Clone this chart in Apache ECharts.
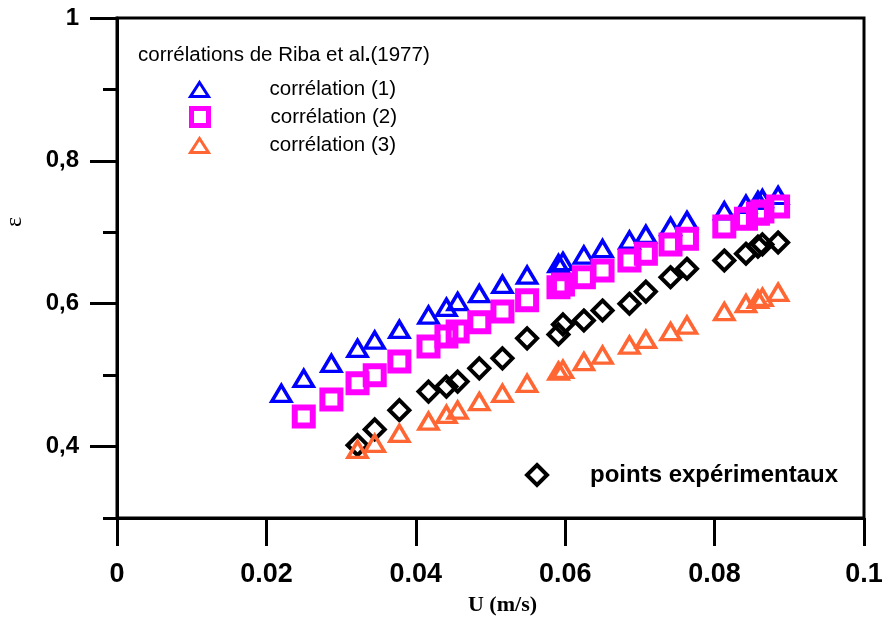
<!DOCTYPE html>
<html>
<head>
<meta charset="utf-8">
<script src="https://cdn.jsdelivr.net/npm/echarts@6/dist/echarts.min.js"></script>
<style>
  html, body { margin: 0; padding: 0; background: #fff; }
  #chart { width: 883px; height: 622px; }
</style>
</head>
<body>
<div id="chart"></div>
<script>
// U (m/s) shared by the measurements and the correlations
const uExp = [0.0322, 0.0345, 0.0378, 0.0417, 0.0441, 0.0456, 0.0485, 0.0516, 0.0549, 0.0591, 0.0597,
  0.0625, 0.0650, 0.0686, 0.0708, 0.0741, 0.0763, 0.0813, 0.0842, 0.0858, 0.0864, 0.0885];
// extra low velocities used only by correlations (1) and (2)
const uLow1 = [0.0220, 0.0250, 0.0287];
const uLow2 = [0.0250, 0.0287];

const epsExp = [0.402, 0.424, 0.451, 0.477, 0.484, 0.491, 0.5095, 0.5235, 0.5515, 0.557, 0.571,
  0.5765, 0.5905, 0.600, 0.617, 0.637, 0.649, 0.6605, 0.670, 0.680, 0.683, 0.6857];
const eps1 = [0.4745, 0.4955, 0.5165,
  0.5375, 0.549, 0.564, 0.584, 0.595, 0.603, 0.614, 0.627, 0.640, 0.656, 0.659,
  0.668, 0.677, 0.689, 0.697, 0.708, 0.7165, 0.730, 0.739, 0.7445, 0.747, 0.7515];
const eps2 = [0.442, 0.466,
  0.4885, 0.500, 0.519, 0.540, 0.554, 0.561, 0.574, 0.589, 0.605, 0.623, 0.627,
  0.637, 0.6465, 0.6605, 0.670, 0.683, 0.691, 0.708, 0.719, 0.726, 0.729, 0.736];
const eps3 = [0.396, 0.4045, 0.4185, 0.4355, 0.445, 0.451, 0.463, 0.4745, 0.4885, 0.5055, 0.508,
  0.519, 0.528, 0.542, 0.550, 0.561, 0.570, 0.589, 0.600, 0.606, 0.609, 0.616];

const xTicks = [0, 0.02, 0.04, 0.06, 0.08, 0.1];
const yMajor = [0.4, 0.6, 0.8, 1];
const yMinor = [0.3, 0.5, 0.7, 0.9];

const names = ['corrélation (1)', 'corrélation (2)', 'corrélation (3)', 'points expérimentaux'];
const colors = ['#0000ff', '#ff00ff', '#ff6633', '#000000'];

const zip = (xs, ys) => xs.map((x, i) => [x, ys[i]]);

const sansFont = '"Liberation Sans", Arial, sans-serif';
const serifFont = '"Liberation Serif", "Times New Roman", serif';

const hollow = (c, w) => ({ color: 'rgba(0,0,0,0)', borderColor: c, borderWidth: w, opacity: 1 });

const legendOne = (name, icon, style, left, top, w, h, pad, textStyle) => ({
  show: true,
  left: left,
  top: top,
  padding: 0,
  itemWidth: w,
  itemHeight: h,
  selectedMode: false,
  data: [{ name: name, icon: icon, itemStyle: style }],
  textStyle: Object.assign({ color: '#000', padding: [0, 0, 0, pad] }, textStyle)
});

const legendText = { fontFamily: sansFont, fontSize: 20.5 };

const option = {
  animation: false,
  backgroundColor: '#fff',
  title: {
    text: 'corrélations de Riba et al{b|.}(1977)',
    left: 138,
    top: 45,
    padding: 0,
    textStyle: {
      fontFamily: sansFont,
      fontSize: 20.5,
      fontWeight: 'normal',
      color: '#000',
      rich: { b: { fontFamily: sansFont, fontSize: 20.5, fontWeight: 'bold', color: '#000' } }
    }
  },
  legend: [
    legendOne(names[0], 'triangle', hollow(colors[0], 3), 189, 79, 18, 14, 56, legendText),
    legendOne(names[1], 'rect', hollow(colors[1], 5), 189, 106, 17, 17, 57, legendText),
    legendOne(names[2], 'triangle', hollow(colors[2], 3), 189, 135, 18, 14, 56, legendText),
    legendOne(names[3], 'diamond', hollow(colors[3], 4), 525, 463, 20, 20, 38,
      { fontFamily: sansFont, fontSize: 24, fontWeight: 'bold' })
  ],
  grid: {
    left: 117,
    right: 19,
    top: 18,
    bottom: 104,
    outerBoundsMode: 'none',
    containLabel: false,
    show: true,
    borderColor: '#000',
    borderWidth: 3,
    backgroundColor: 'rgba(0,0,0,0)'
  },
  xAxis: {
    type: 'value',
    min: 0,
    max: 0.1,
    interval: 0.02,
    name: 'U (m/s)',
    nameLocation: 'middle',
    nameGap: 76,
    nameTextStyle: {
      fontFamily: serifFont, fontSize: 22, fontWeight: 'bold', color: '#000',
      padding: [0, 0, 0, 24]
    },
    axisLine: { lineStyle: { color: '#000', width: 3 } },
    axisTick: { customValues: xTicks, length: 28, lineStyle: { color: '#000', width: 3 } },
    axisLabel: {
      customValues: xTicks,
      margin: 43,
      color: '#000',
      fontFamily: sansFont,
      fontSize: 27,
      fontWeight: 'bold',
      formatter: v => String(+v.toFixed(2))
    },
    splitLine: { show: false }
  },
  yAxis: [
    {
      type: 'value',
      min: 0.3,
      max: 1,
      interval: 0.1,
      name: 'ε',
      nameLocation: 'middle',
      nameGap: 90,
      nameTextStyle: {
        fontFamily: serifFont, fontSize: 24, color: '#000',
        padding: [0, 0, 0, 92]
      },
      axisLine: { lineStyle: { color: '#000', width: 3 } },
      axisTick: { customValues: yMajor, length: 27, lineStyle: { color: '#000', width: 3 } },
      axisLabel: {
        customValues: yMajor,
        margin: 38,
        color: '#000',
        fontFamily: sansFont,
        fontSize: 24,
        fontWeight: 'bold',
        formatter: v => (v === 1 ? '1' : v.toFixed(1).replace('.', ','))
      },
      splitLine: { show: false }
    },
    {
      type: 'value',
      min: 0.3,
      max: 1,
      interval: 0.1,
      position: 'left',
      axisLine: { show: false },
      axisTick: { customValues: yMinor, length: 14, lineStyle: { color: '#000', width: 3 } },
      axisLabel: { show: false },
      splitLine: { show: false }
    }
  ],
  series: [
    {
      name: names[0],
      type: 'scatter',
      symbol: 'triangle',
      symbolSize: [19, 16],
      itemStyle: hollow(colors[0], 3.5),
      data: zip(uLow1.concat(uExp), eps1)
    },
    {
      name: names[1],
      type: 'scatter',
      symbol: 'rect',
      symbolSize: 18,
      itemStyle: hollow(colors[1], 6),
      data: zip(uLow2.concat(uExp), eps2)
    },
    {
      name: names[3],
      type: 'scatter',
      symbol: 'diamond',
      symbolSize: 20,
      itemStyle: hollow(colors[3], 4),
      data: zip(uExp, epsExp)
    },
    {
      name: names[2],
      type: 'scatter',
      symbol: 'triangle',
      symbolSize: [19, 16],
      itemStyle: hollow(colors[2], 3.5),
      data: zip(uExp, eps3)
    }
  ]
};

const chart = echarts.init(document.getElementById('chart'));
chart.setOption(option);
</script>
</body>
</html>
